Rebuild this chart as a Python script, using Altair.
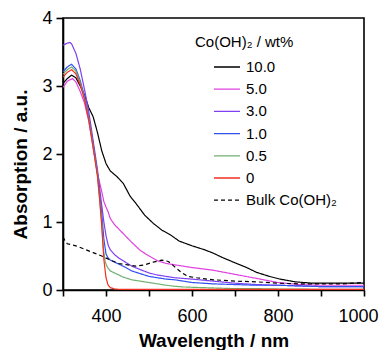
import altair as alt
import pandas as pd

# ---- data ----
wl_10 = [300, 310, 320, 330, 340, 350, 360, 370, 380, 390, 400, 410, 425, 440, 456, 470, 490, 510, 530, 550, 570, 600, 630, 650, 670, 700, 727, 750, 780, 805, 840, 880, 950, 1000]
ab_10 = [3.04, 3.11, 3.16, 3.12, 3.00, 2.87, 2.68, 2.55, 2.32, 2.05, 1.86, 1.75, 1.67, 1.57, 1.38, 1.27, 1.10, 0.98, 0.88, 0.81, 0.72, 0.65, 0.59, 0.54, 0.48, 0.40, 0.33, 0.26, 0.20, 0.16, 0.12, 0.10, 0.10, 0.10]

wl_5 = [300, 310, 322, 330, 340, 350, 360, 370, 380, 390, 395, 400, 405, 410, 420, 440, 460, 480, 500, 520, 540, 560, 580, 600, 650, 700, 750, 800, 850, 900, 1000]
ab_5 = [2.98, 3.07, 3.11, 3.06, 2.92, 2.75, 2.48, 2.10, 1.72, 1.45, 1.30, 1.22, 1.15, 1.05, 0.96, 0.83, 0.70, 0.58, 0.50, 0.43, 0.39, 0.37, 0.35, 0.33, 0.29, 0.23, 0.17, 0.11, 0.08, 0.07, 0.07]

wl_3 = [300, 310, 316, 320, 330, 340, 350, 360, 370, 380, 390, 395, 400, 405, 410, 420, 430, 440, 460, 480, 500, 520, 540, 560, 580, 600, 650, 700, 750, 800, 850, 900, 1000]
ab_3 = [3.60, 3.63, 3.64, 3.62, 3.48, 3.25, 2.95, 2.62, 2.20, 1.78, 1.25, 1.00, 0.80, 0.66, 0.59, 0.52, 0.47, 0.43, 0.35, 0.30, 0.25, 0.22, 0.20, 0.18, 0.17, 0.16, 0.13, 0.10, 0.08, 0.07, 0.06, 0.05, 0.05]

wl_1 = [300, 310, 320, 330, 340, 350, 360, 370, 380, 390, 395, 400, 405, 410, 420, 440, 460, 480, 500, 520, 540, 560, 580, 600, 650, 700, 750, 800, 850, 900, 1000]
ab_1 = [3.21, 3.28, 3.32, 3.25, 3.08, 2.85, 2.55, 2.15, 1.72, 1.13, 0.75, 0.53, 0.47, 0.44, 0.41, 0.35, 0.28, 0.24, 0.20, 0.18, 0.16, 0.15, 0.13, 0.11, 0.09, 0.08, 0.07, 0.07, 0.06, 0.05, 0.05]

wl_05 = [300, 310, 320, 330, 340, 350, 360, 370, 380, 390, 394, 398, 402, 406, 410, 420, 430, 440, 460, 480, 500, 520, 540, 560, 580, 600, 650, 700, 750, 800, 900, 1000]
ab_05 = [3.17, 3.24, 3.28, 3.22, 3.05, 2.82, 2.52, 2.12, 1.70, 1.00, 0.60, 0.42, 0.35, 0.31, 0.28, 0.25, 0.22, 0.19, 0.15, 0.13, 0.11, 0.09, 0.07, 0.055, 0.045, 0.04, 0.03, 0.02, 0.02, 0.015, 0.01, 0.01]

wl_0 = [300, 310, 320, 330, 340, 350, 360, 370, 380, 385, 390, 395, 400, 405, 410, 420, 430, 500, 600, 700, 800, 900, 1000]
ab_0 = [3.13, 3.20, 3.24, 3.18, 3.02, 2.80, 2.50, 2.10, 1.68, 1.35, 0.95, 0.45, 0.18, 0.07, 0.035, 0.015, 0.01, 0.01, 0.01, 0.01, 0.01, 0.01, 0.01]

wl_bulk = [300, 305, 310, 330, 350, 370, 390, 410, 430, 450, 470, 490, 510, 530, 545, 560, 575, 590, 610, 650, 700, 750, 800, 850, 900, 950, 1000]
ab_bulk = [0.78, 0.72, 0.68, 0.65, 0.60, 0.55, 0.50, 0.44, 0.39, 0.37, 0.35, 0.37, 0.41, 0.44, 0.42, 0.34, 0.26, 0.20, 0.18, 0.15, 0.13, 0.12, 0.10, 0.09, 0.09, 0.09, 0.11]

series_names = ["10.0", "5.0", "3.0", "1.0", "0.5", "0", "Bulk Co(OH)₂"]
series_colors = ["#000000", "#e040e0", "#8040f0", "#3050f0", "#70b070", "#f03020", "#000000"]
series_dash = [[1, 0], [1, 0], [1, 0], [1, 0], [1, 0], [1, 0], [4, 3]]

x_ticks = [300, 400, 500, 600, 700, 800, 900, 1000]
y_ticks = [0, 1, 2, 3, 4]

all_wl = [wl_10, wl_5, wl_3, wl_1, wl_05, wl_0, wl_bulk]
all_ab = [ab_10, ab_5, ab_3, ab_1, ab_05, ab_0, ab_bulk]

rows = []
for name, wls, abs_ in zip(series_names, all_wl, all_ab):
    for w, a in zip(wls, abs_):
        rows.append({"series": name, "wl": w, "ab": a})
df = pd.DataFrame(rows)

FONT = "Liberation Sans"

chart = alt.Chart(df).mark_line(strokeWidth=1.2, clip=True).encode(
    x=alt.X("wl:Q",
            scale=alt.Scale(domain=[300, 1000], nice=False, zero=False),
            axis=alt.Axis(values=x_ticks, format="d",
                          labelExpr="datum.value % 200 == 0 ? datum.label : ''",
                          labelFlush=True, labelFlushOffset=14, labelOverlap=False,
                          title="Wavelength / nm", tickSize=6, labelPadding=11,
                          titlePadding=6)),
    y=alt.Y("ab:Q",
            scale=alt.Scale(domain=[0, 4], nice=False),
            axis=alt.Axis(values=y_ticks, format="d", title="Absorption / a.u.",
                          labelFlush=False, labelOverlap=False,
                          tickSize=7, labelPadding=4, titlePadding=11, titleY=146)),
    color=alt.Color("series:N",
                    scale=alt.Scale(domain=series_names, range=series_colors),
                    legend=alt.Legend(title="Co(OH)₂ / wt%")),
    strokeDash=alt.StrokeDash("series:N",
                              scale=alt.Scale(domain=series_names, range=series_dash),
                              legend=alt.Legend(title="Co(OH)₂ / wt%")),
    order=alt.Order("wl:Q"),
).properties(
    width=301, height=272,
    autosize=alt.AutoSizeParams(type="none"),
    padding={"left": 55, "top": 10, "right": 15, "bottom": 60},
).configure_view(
    stroke="black", strokeWidth=1.6
).configure_axis(
    grid=False, domainColor="black", domainWidth=1.6, tickColor="black",
    tickWidth=1.6, labelFont=FONT, labelFontSize=18, labelColor="black",
    titleFont=FONT, titleFontSize=19, titleFontWeight="bold", titleColor="black",
).configure_legend(
    orient="none", legendX=132, legendY=17, padding=0,
    titleFont=FONT, titleFontSize=15, titleFontWeight="normal", titleColor="black",
    labelFont=FONT, labelFontSize=15, labelColor="black",
    symbolType="stroke", symbolSize=676, symbolStrokeWidth=1.3,
    symbolOffset=18, labelOffset=5, clipHeight=20, rowPadding=2.2,
    titlePadding=7,
)

chart.save("out.html", embed_options={"renderer": "svg", "actions": False})
